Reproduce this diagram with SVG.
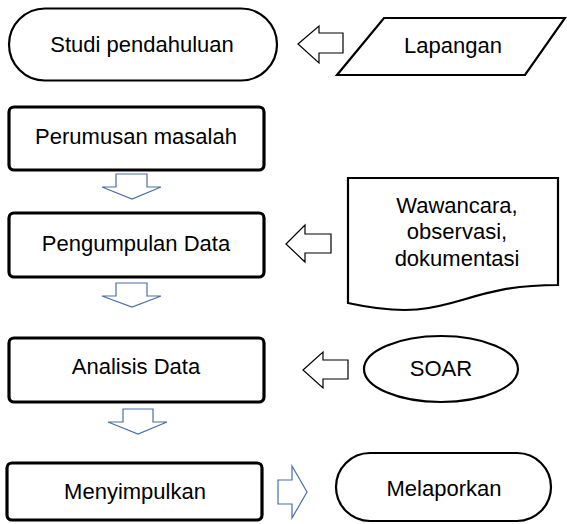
<svg xmlns="http://www.w3.org/2000/svg" width="567" height="524" viewBox="0 0 567 524">
<style>
.t{font-family:"Liberation Sans",Arial,sans-serif;font-size:22px;fill:#000;text-anchor:middle}
.box{fill:#fff;stroke:#000;stroke-width:3.2}
.term{fill:#fff;stroke:#000;stroke-width:2.2}
.blue{fill:#fff;stroke:#4a6fa5;stroke-width:1.2}
.blk{fill:#fff;stroke:#000;stroke-width:1.2}
</style>
<rect width="567" height="524" fill="#fff"/>
<g id="studi"><rect class="term" x="9" y="8.5" width="268" height="72" rx="36"/><text class="t" x="142" y="52">Studi pendahuluan</text></g>
<g id="lapangan"><path class="term" d="M384,18 H565 L525,75 H337 Z"/><text class="t" x="453" y="53">Lapangan</text></g>
<g id="perumusan"><rect class="box" x="9" y="107" width="255" height="63" rx="5"/><text class="t" x="136" y="144">Perumusan masalah</text></g>
<g id="pengumpulan"><rect class="box" x="9" y="213" width="255" height="64" rx="5"/><text class="t" x="136" y="251">Pengumpulan Data</text></g>
<g id="wawancara"><path class="term" d="M348,178 H558 V285 C453,285 453,326 348,303 Z"/><text class="t" x="457" y="213">Wawancara,</text><text class="t" x="457" y="239">observasi,</text><text class="t" x="457" y="266">dokumentasi</text></g>
<g id="analisis"><rect class="box" x="9" y="338" width="255" height="64" rx="5"/><text class="t" x="136" y="374">Analisis Data</text></g>
<g id="soar"><ellipse class="term" cx="441" cy="369" rx="77" ry="33"/><text class="t" x="441" y="376">SOAR</text></g>
<g id="menyimpulkan"><rect class="box" x="7" y="463" width="255" height="57" rx="5"/><text class="t" x="135" y="499">Menyimpulkan</text></g>
<g id="melaporkan"><rect class="term" x="336" y="453" width="215" height="68" rx="34"/><text class="t" x="444" y="496">Melaporkan</text></g>
<g id="connectors">
<path class="blk" d="M298,44 L319,26 V33 H343 V53 H319 V63 Z"/>
<path class="blk" d="M286,244 L305,225 V234 H331 V253 H305 V262 Z"/>
<path class="blk" d="M303,370 L323,352 V360 H348 V379 H323 V388 Z"/>
<path class="blue" d="M116,174 H147 V187 H161 L132,199 L102,187 H116 Z"/>
<path class="blue" d="M116,283 H147 V296 H161 L132,307 L102,296 H116 Z"/>
<path class="blue" d="M123,409 H153 V422 H167 L138,434 L108,422 H123 Z"/>
<path class="blue" d="M278,480 H292 V466 L307,492 L292,518 V504 H278 Z"/>
</g>
</svg>
